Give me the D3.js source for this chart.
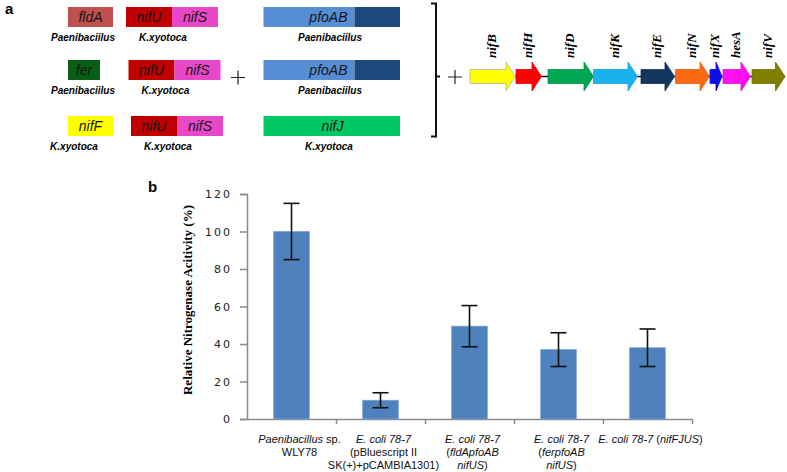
<!DOCTYPE html>
<html>
<head>
<meta charset="utf-8">
<script src="https://cdn.jsdelivr.net/npm/d3@7"></script>
<style>
  body { margin: 0; background: #fff; }
  svg { display: block; }
</style>
</head>
<body>
<div id="chart"></div>
<script>
// ---- data: panel b (relative nitrogenase activity, %) ----
const strains = ['wly78', 'empty', 'fldA', 'fer', 'nifF']
const activity = [100, 10, 49.5, 37, 38]
const activityErr = [15, 4, 11, 9, 10]
const yTicks = [0, 20, 40, 60, 80, 100, 120]
// label lines; each segment is [text, italic]
const strainLabels = [
    [[['Paenibacillus', true], [' sp.', false]], [['WLY78', false]]],
    [[['E. coli 78-7', true]], [['(pBluescript II', false]], [['SK(+)+pCAMBIA1301)', false]]],
    [[['E. coli 78-7', true]], [['(', false], ['fldApfoAB', true]], [['nifUS', true], [')', false]]],
    [[['E. coli 78-7', true]], [['(', false], ['ferpfoAB', true]], [['nifUS', true], [')', false]]],
    [[['E. coli 78-7', true], [' (', false], ['nifFJUS', true], [')', false]]]
]

// ---- data: panel a (constructs) ----
const donorGenes = ['fldA', 'fer', 'nifF']
const donorSource = ['Paenibaciilus', 'Paenibaciilus', 'K.xyotoca']
const donorLength = [45, 32, 45]
const donorColor = ['#c0504d', '#0a5f16', '#ffff00']
const usGenes = ['nifU', 'nifS']
const usColor = ['#c00000', '#e848c8']
const pfoGenes = ['pfoAB', 'pfoAB', 'nifJ']
const pfoSource = ['Paenibaciilus', 'Paenibaciilus', 'K.xyotoca']
const pfoSplit = [true, true, false]
const pfoColor = ['#558ed5', '#558ed5', '#00c864']

// nif cluster genes (start / end along the cluster)
const nifGenes = ['nifB', 'nifH', 'nifD', 'nifK', 'nifE', 'nifN', 'nifX', 'hesA', 'nifV']
const nifStart = [0, 46, 78, 123.5, 171, 205.5, 240, 253, 282]
const nifEnd = [45.5, 71.5, 123.5, 167.5, 204.5, 239.5, 252, 280.5, 315]
const nifColor = ['#ffff00', '#ff0000', '#00a651', '#1ab2ec', '#14365e', '#fa6a14', '#0b10e8', '#ff10f0', '#7f7f00']

const width = 787
const height = 472

const svg = d3.select('#chart')
    .append('svg')
    .attr('width', width)
    .attr('height', height)

// ================= panel a =================
svg.append('text')
    .attr('x', 5).attr('y', 14)
    .style('font', 'bold 15px "Liberation Sans", Arial, sans-serif')
    .text('a')

const rowY = d3.scaleBand().domain([0, 1, 2]).range([5, 150]).paddingInner(0)
const rowTop = [7, 60, 116]
const boxH = 20
const geneFont = 'italic 14px "Liberation Sans", Arial, sans-serif'
const srcFont = 'bold italic 10px "Liberation Sans", Arial, sans-serif'

const rowsA = svg.append('g').attr('id', 'constructs')

donorGenes.forEach((g, i) => {
    const top = rowTop[i]
    const row = rowsA.append('g')
    // donor gene box
    const bx = 68
    row.append('rect')
        .attr('x', bx).attr('y', top)
        .attr('width', donorLength[i]).attr('height', boxH)
        .attr('fill', donorColor[i])
    row.append('text')
        .attr('x', bx + donorLength[i] / 2).attr('y', top + 15)
        .attr('text-anchor', 'middle')
        .style('font', geneFont).attr('fill', '#151515')
        .text(g)
    row.append('text')
        .attr('x', i == 2 ? 74 : 83).attr('y', top + 34)
        .attr('text-anchor', 'middle')
        .style('font', srcFont)
        .text(donorSource[i])

    // nifU nifS
    const ux = 126 + i * 2.5
    usGenes.forEach((u, j) => {
        row.append('rect')
            .attr('x', ux + j * 46).attr('y', top)
            .attr('width', 46).attr('height', boxH)
            .attr('fill', usColor[j])
        row.append('text')
            .attr('x', ux + j * 46 + 23).attr('y', top + 15)
            .attr('text-anchor', 'middle')
            .style('font', geneFont).attr('fill', '#151515')
            .text(u)
    })
    row.append('text')
        .attr('x', ux + 37).attr('y', top + 34)
        .attr('text-anchor', 'middle')
        .style('font', srcFont)
        .text('K.xyotoca')

    // pfoAB / nifJ
    const px = 263.5
    if (pfoSplit[i]) {
        row.append('rect')
            .attr('x', px).attr('y', top).attr('width', 91).attr('height', boxH)
            .attr('fill', pfoColor[i])
        row.append('rect')
            .attr('x', px + 91).attr('y', top).attr('width', 45.5).attr('height', boxH)
            .attr('fill', '#1f497d')
        row.append('text')
            .attr('x', px + 84).attr('y', top + 15)
            .attr('text-anchor', 'end')
            .style('font', geneFont).attr('fill', '#151515')
            .text(pfoGenes[i])
    } else {
        row.append('rect')
            .attr('x', px).attr('y', top).attr('width', 136.5).attr('height', boxH)
            .attr('fill', pfoColor[i])
        row.append('text')
            .attr('x', px + 69).attr('y', top + 15)
            .attr('text-anchor', 'middle')
            .style('font', geneFont).attr('fill', '#151515')
            .text(pfoGenes[i])
    }
    row.append('text')
        .attr('x', i == 2 ? 329 : 330).attr('y', top + 34)
        .attr('text-anchor', 'middle')
        .style('font', srcFont)
        .text(pfoSource[i])
})

// plus signs
function plus(cx, cy, r) {
    svg.append('path')
        .attr('d', `M${cx - r},${cy}H${cx + r}M${cx},${cy - r}V${cy + r}`)
        .attr('stroke', '#222').attr('stroke-width', 1.2).attr('fill', 'none')
}
plus(238, 77.5, 7)
plus(455, 77, 7)

// bracket
svg.append('path')
    .attr('d', 'M431,3.5H436V136.5H431M436,76.5H440')
    .attr('stroke', '#111').attr('stroke-width', 2).attr('fill', 'none')

// nif cluster arrows
const gx = d3.scaleLinear().domain([0, 315]).range([470, 785])
const cy = 76.5
svg.append('line')
    .attr('x1', gx(0)).attr('x2', gx(315))
    .attr('y1', cy).attr('y2', cy)
    .attr('stroke', '#111').attr('stroke-width', 1.5)

const arrows = svg.append('g').attr('id', 'nifCluster')
nifGenes.forEach((g, i) => {
    const x0 = gx(nifStart[i]), x1 = gx(nifEnd[i])
    const head = Math.min(9.5, (x1 - x0) * 0.5)
    const bh = 7, hh = 14.5
    const d = `M${x0},${cy - bh}H${x1 - head}V${cy - hh}L${x1},${cy}L${x1 - head},${cy + hh}V${cy + bh}H${x0}Z`
    arrows.append('path')
        .attr('d', d)
        .attr('fill', nifColor[i])
        .attr('stroke', i == 0 ? '#b5b5a0' : d3.color(nifColor[i]).darker(0.3))
        .attr('stroke-width', 0.8)
    const lx = (x0 + x1) / 2 - 1
    arrows.append('text')
        .attr('transform', `translate(${lx + 4},58) rotate(-90)`)
        .style('font', 'bold italic 13px "Liberation Serif", "Times New Roman", serif')
        .text(g)
})

// ================= panel b =================
const margin = { top: 194, left: 247, right: 95, bottom: 53 }
const graphW = width - margin.left - margin.right
const graphH = height - margin.top - margin.bottom

svg.append('text')
    .attr('x', 148).attr('y', 192)
    .style('font', 'bold 15px "Liberation Sans", Arial, sans-serif')
    .text('b')

const g = svg.append('g')
    .attr('transform', `translate(${margin.left},${margin.top})`)

const x = d3.scaleBand().domain(strains).range([0, graphW]).padding(0)
const y = d3.scaleLinear().domain([0, 120]).range([graphH, 0])

// y axis
const yAxis = d3.axisLeft(y).tickValues(yTicks).tickSize(7).tickPadding(8)
const yAxisGroup = g.append('g').call(yAxis)
yAxisGroup.select('.domain').attr('stroke', '#8a8a8a').attr('stroke-width', 1.5)
yAxisGroup.selectAll('.tick line').attr('stroke', '#8a8a8a').attr('stroke-width', 1.5)
yAxisGroup.selectAll('text')
    .style('font-family', '"DejaVu Sans", Verdana, sans-serif')
    .style('font-size', '11px')
    .style('letter-spacing', '2px')
    .attr('fill', '#222')

// x axis with ticks on band edges
const xEdge = d3.scaleLinear().domain([0, strains.length]).range([0, graphW])
const xAxis = d3.axisBottom(xEdge).ticks(strains.length).tickSize(5).tickFormat('').tickSizeOuter(0)
const xAxisGroup = g.append('g')
    .attr('transform', `translate(0,${graphH})`)
    .call(xAxis)
xAxisGroup.select('.domain').attr('stroke', '#8a8a8a').attr('stroke-width', 1.5)
xAxisGroup.selectAll('.tick line').attr('stroke', '#8a8a8a').attr('stroke-width', 1.5)
xAxisGroup.selectAll('.tick').filter(d => d == 0).remove()

// bars
const barW = x.bandwidth() * 0.4
g.selectAll('rect.bar')
    .data(strains)
    .join('rect')
    .attr('class', 'bar')
    .attr('x', d => x(d) + x.bandwidth() / 2 - barW / 2)
    .attr('y', (d, i) => y(activity[i]))
    .attr('width', barW)
    .attr('height', (d, i) => graphH - y(activity[i]))
    .attr('fill', '#4f81bd')
    .attr('stroke', '#7aa0d4')
    .attr('stroke-width', 0.8)

// error bars
const capW = 8
const err = g.selectAll('g.err')
    .data(strains)
    .join('g')
    .attr('class', 'err')
    .attr('stroke', '#111')
    .attr('stroke-width', 1.6)
err.append('line')
    .attr('x1', d => x(d) + x.bandwidth() / 2).attr('x2', d => x(d) + x.bandwidth() / 2)
    .attr('y1', (d, i) => y(activity[i] + activityErr[i]))
    .attr('y2', (d, i) => y(activity[i] - activityErr[i]))
err.append('line')
    .attr('x1', d => x(d) + x.bandwidth() / 2 - capW).attr('x2', d => x(d) + x.bandwidth() / 2 + capW)
    .attr('y1', (d, i) => y(activity[i] + activityErr[i]))
    .attr('y2', (d, i) => y(activity[i] + activityErr[i]))
err.append('line')
    .attr('x1', d => x(d) + x.bandwidth() / 2 - capW).attr('x2', d => x(d) + x.bandwidth() / 2 + capW)
    .attr('y1', (d, i) => y(activity[i] - activityErr[i]))
    .attr('y2', (d, i) => y(activity[i] - activityErr[i]))

// category labels
strains.forEach((s, i) => {
    const t = g.append('text')
        .attr('text-anchor', 'middle')
        .style('font', '11px "Liberation Sans", Arial, sans-serif')
        .attr('fill', '#111')
    strainLabels[i].forEach((line, li) => {
        line.forEach((seg, si) => {
            const ts = t.append('tspan')
                .style('font-style', seg[1] ? 'italic' : 'normal')
                .text(seg[0])
            if (si == 0) {
                ts.attr('x', x(s) + x.bandwidth() / 2 + (i == 0 ? 8 : 3))
                    .attr('y', graphH + 24 + li * 12.8)
            }
        })
    })
})

// y axis title
svg.append('text')
    .attr('transform', 'translate(192,300) rotate(-90)')
    .attr('text-anchor', 'middle')
    .style('font', 'bold 13px "Liberation Serif", "Times New Roman", serif')
    .text('Relative Nitrogenase Acitivity (%)')
</script>
</body>
</html>
